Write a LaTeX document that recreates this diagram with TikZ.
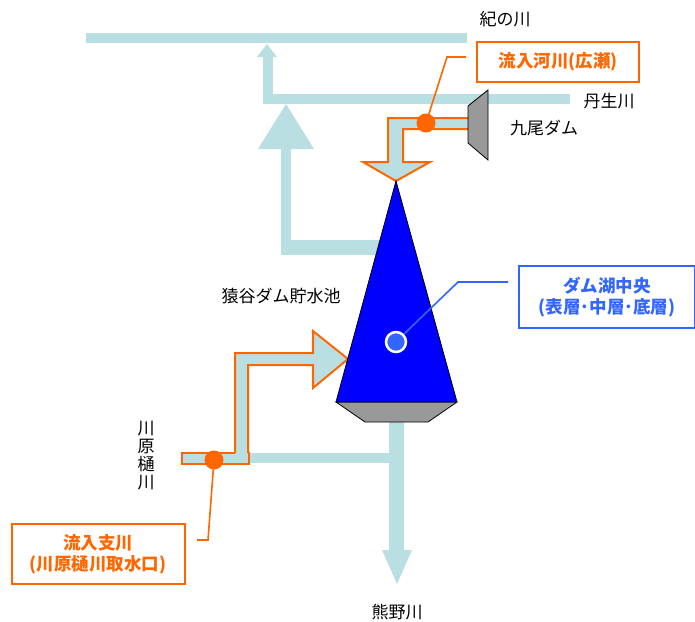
\documentclass[tikz,border=0pt]{standalone}
\usepackage{fontspec}
\setmainfont{Noto Sans CJK JP}
\usetikzlibrary{positioning}
\definecolor{riverblue}{HTML}{BADFE2}
\definecolor{inorange}{HTML}{FF6600}
\definecolor{lakeblue}{HTML}{0000FF}
\definecolor{ptblue}{HTML}{3366FF}
\definecolor{damgray}{HTML}{999999}

\begin{document}
\begin{tikzpicture}[x=1pt, y=-1pt,
    river/.style={fill=riverblue, draw=none},
    pipe/.style={fill=riverblue, draw=inorange, line width=2pt, line join=miter},
    lbl/.style={font=\fontsize{17}{19}\selectfont, text=black, inner sep=0pt},
    callout/.style={draw=#1, line width=2pt, fill=white, align=center, inner sep=0pt,
                    font=\fontsize{17.5}{21}\selectfont\bfseries, text=#1},
    leader/.style={draw=#1, line width=1.6pt},
    dot/.style={circle, fill=inorange, minimum size=19pt, inner sep=0pt},
]
    \useasboundingbox (0,0) rectangle (695,621);

    % rivers
    \fill[river] (86,33) rectangle (467,43);
    \fill[river] (263,94) rectangle (570,104);
    \fill[river] (263,56) rectangle (273,104);
    \fill[river] (257,57) -- (277,57) -- (267,44) -- cycle;
    \fill[river] (281,148) rectangle (291,255);
    \fill[river] (281,240) rectangle (380,255);
    \fill[river] (258,149) -- (314,149) -- (286,104) -- cycle;
    \fill[river] (248,453) rectangle (397,463);
    \fill[river] (389,415) rectangle (404,551);
    \fill[river] (382,550) -- (412,550) -- (397,584) -- cycle;

    % inflow from the dam
    \fill[riverblue] (470,118) -- (388,118) -- (388,162) -- (363,162) -- (396,181)
        -- (430,162) -- (403,162) -- (403,129) -- (470,129) -- cycle;
    \draw[pipe, fill=none] (470,118) -- (388,118) -- (388,162) -- (363,162) -- (396,181)
        -- (430,162) -- (403,162) -- (403,129) -- (470,129);

    % intake of the tributary
    \draw[pipe] (182,453) rectangle (249,464);
    \fill[riverblue] (235,454) -- (235,353) -- (313,353) -- (313,331) -- (348,359)
        -- (313,388) -- (313,365) -- (248,365) -- (248,454) -- cycle;
    \draw[pipe, fill=none] (235,453) -- (235,353) -- (313,353) -- (313,331) -- (348,359)
        -- (313,388) -- (313,365) -- (248,365) -- (248,453);

    % dam and reservoir
    \draw[fill=damgray, line width=0.8pt] (468,106) -- (488,90) -- (488,160) -- (468,143) -- cycle;
    \draw[fill=damgray, line width=0.8pt] (336,402) -- (457,402) -- (428,422) -- (365,422) -- cycle;
    \draw[fill=lakeblue, line width=0.8pt] (396,181) -- (457,402) -- (336,402) -- cycle;

    % points
    \node[dot] (p1) at (426,123) {};
    \node[dot] (p2) at (214,460) {};
    \node[circle, fill=ptblue, draw=white, line width=2.5pt, minimum size=20pt, inner sep=0pt]
        (p3) at (396,342) {};

    % callouts
    \node[callout=inorange, minimum width=162pt, minimum height=40pt] (c1) at (558,62) {流入河川(広瀬)};
    \node[callout=ptblue, minimum width=176pt, minimum height=62pt] (c3) at (607,297)
        {ダム湖中央\\(表層･中層･底層)};
    \node[callout=inorange, minimum width=173pt, minimum height=60pt] (c2) at (98,554)
        {流入支川\\(川原樋川取水口)};
    \coordinate (k1) at (447,57);
    \coordinate (e1) at (466,57);
    \coordinate (k3) at (458,282);
    \coordinate (e3) at (508,282);
    \coordinate (k2) at (208,540);
    \coordinate (e2) at (197,540);
    \draw[leader=inorange] (p1.center) -- (k1) -- (e1);
    \draw[leader=ptblue] (p3.45) -- (k3) -- (e3);
    \draw[leader=inorange] (p2.center) -- (k2) -- (e2);

    % labels
    \node[lbl] (kino) at (505,19) {紀の川};
    \node[lbl] (nyu) at (609,101) {丹生川};
    \node[lbl] (kuo) at (544,128) {九尾ダム};
    \node[lbl] (saru) at (281,296) {猿谷ダム貯水池};
    \node[lbl] (kuma) at (397,612) {熊野川};
    \node[lbl, align=center, font=\fontsize{17}{18}\selectfont] (kawa) at (146,456) {川\\原\\樋\\川};
\end{tikzpicture}
\end{document}
